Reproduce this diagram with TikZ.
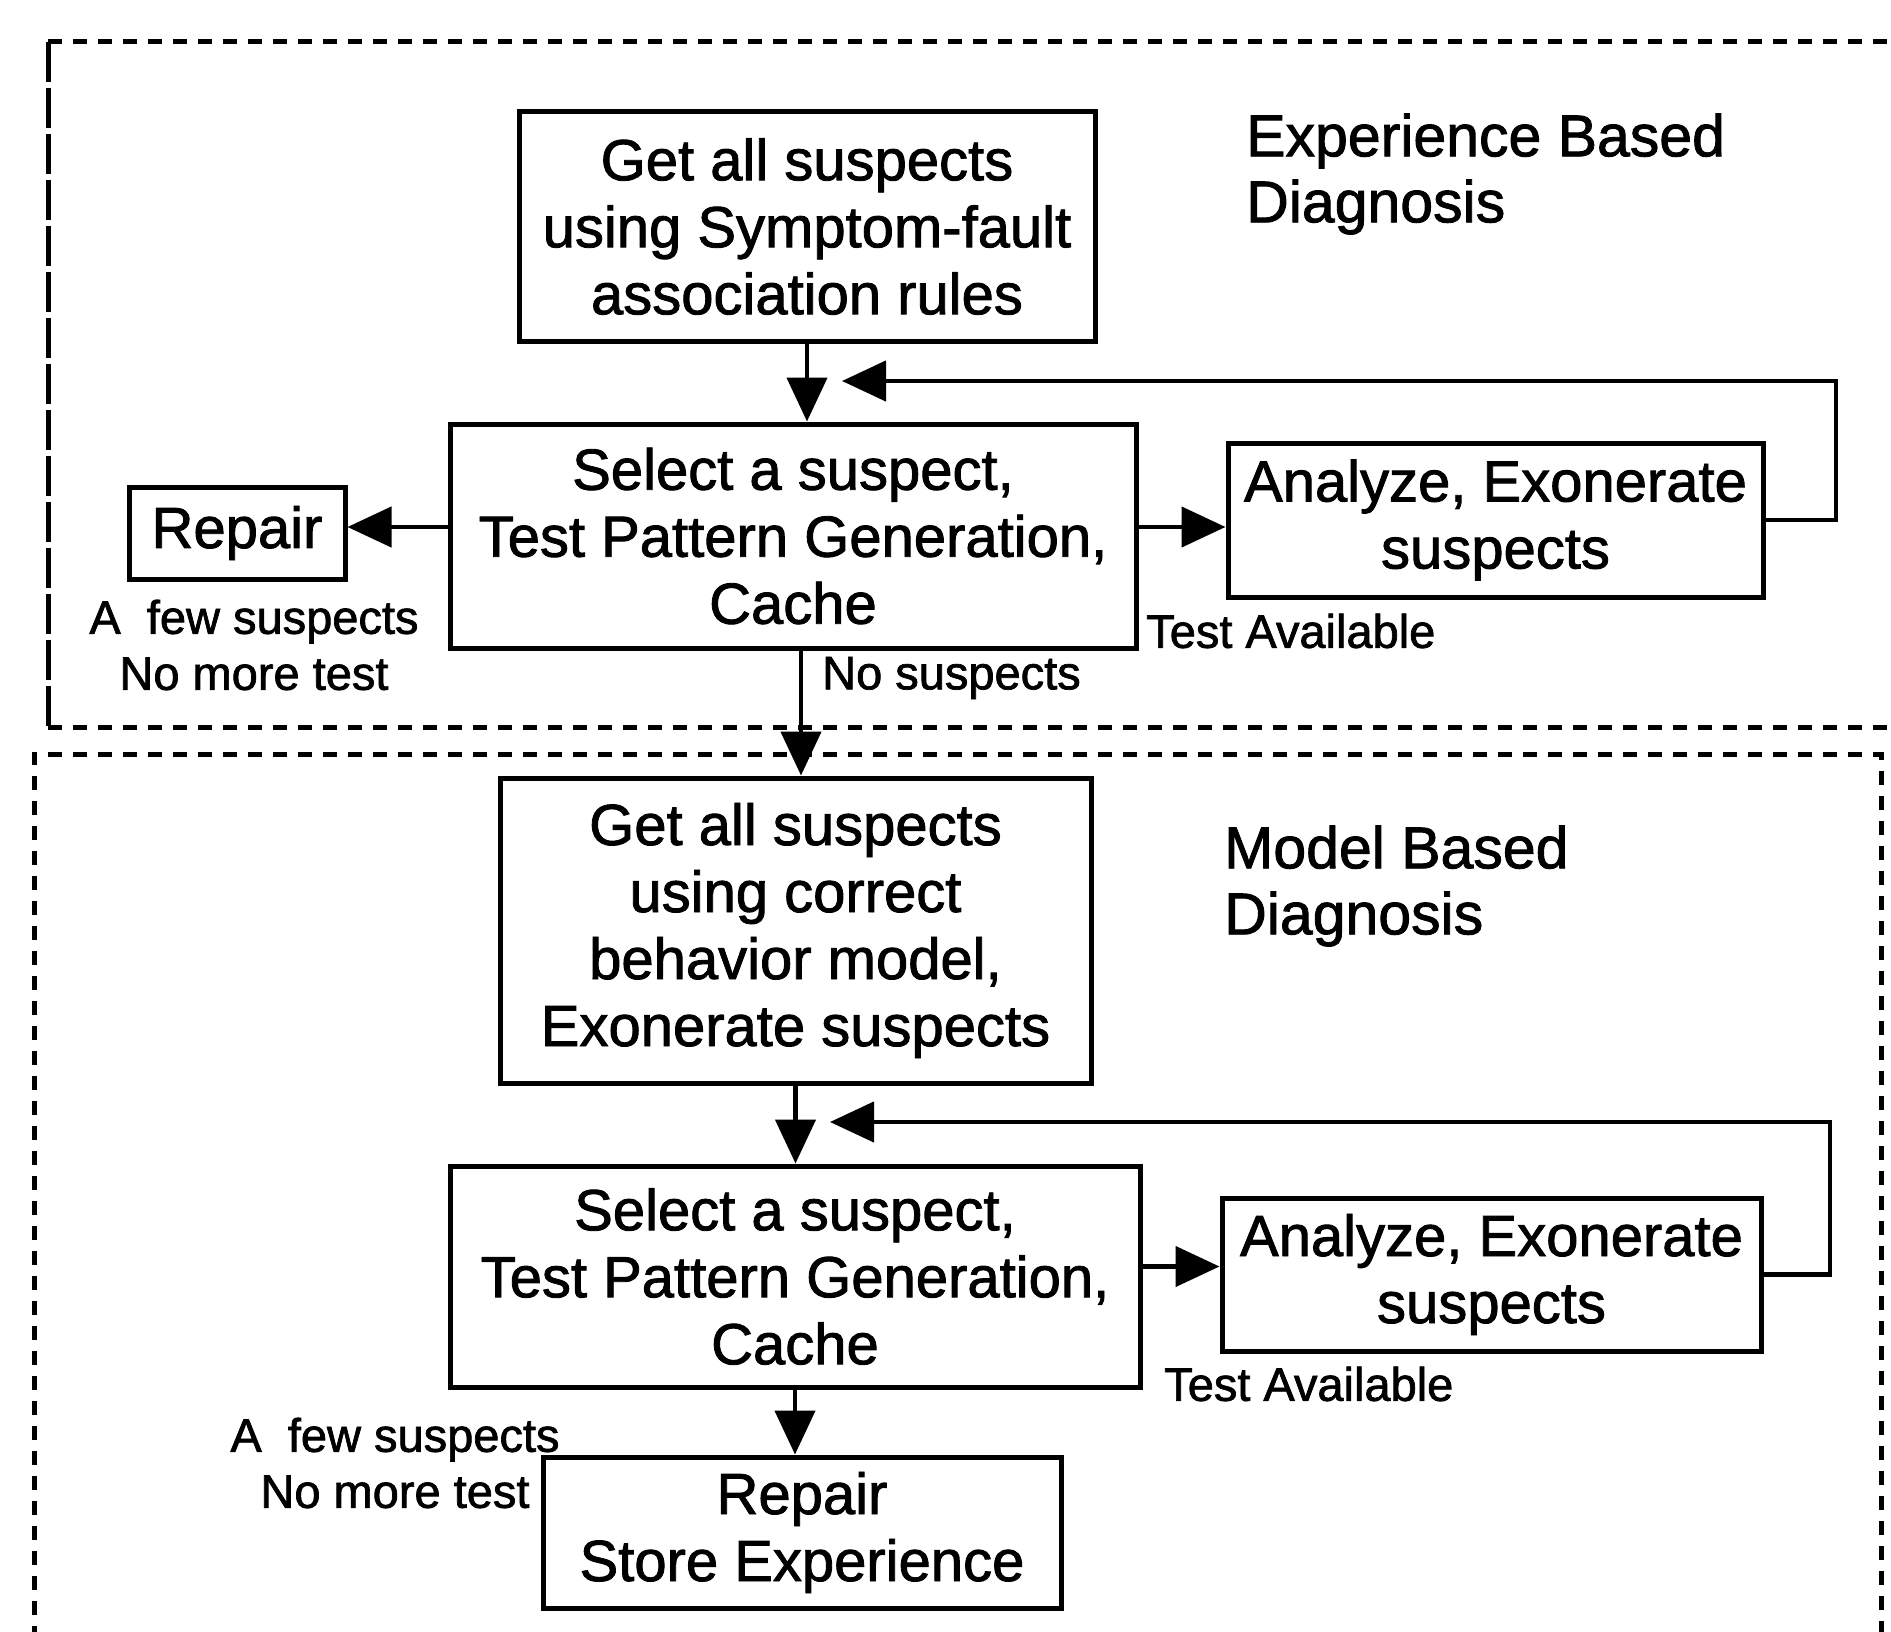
\documentclass[tikz,border=0pt]{standalone}
\usepackage{fontspec}
\setmainfont[FakeBold=1.5]{Liberation Sans}
\usetikzlibrary{arrows.meta}
\begin{document}
\begin{tikzpicture}[x=1pt,y=-1pt,
  box/.style={draw, line width=5pt, inner sep=0pt, align=center,
    font=\fontsize{58}{67}\selectfont},
  big/.style={inner sep=0pt, align=left, font=\fontsize{59}{66}\selectfont},
  small/.style={inner sep=0pt, align=center, font=\fontsize{47}{56}\selectfont},
  arr/.style={line width=4.5pt, -{Triangle[length=44pt,width=40pt]}},
  region/.style={line width=5pt, dash pattern=on 14pt off 11pt},
  regionleft/.style={line width=5pt, dash pattern=on 40pt off 6pt}]
\useasboundingbox (0,0) rectangle (1891,1632);
\fill[white] (0,0) rectangle (1891,1632);
% regions
\draw[region] (48,42) -- (1891,42);
\draw[regionleft] (48,42) -- (48,727);
\draw[region] (48,727) -- (1891,727);
\draw[region] (1893,42) -- (1893,727);
\draw[region] (34,1640) -- (34,754) -- (1881,754) -- (1881,1640);
% top section
\node[box, minimum width=576pt, minimum height=229pt] (b1) at (807,226.5)
  {Get all suspects\\using Symptom-fault\\association rules};
\node[box, minimum width=686pt, minimum height=224pt] (b2) at (793,536)
  {Select a suspect,\\Test Pattern Generation,\\Cache};
\node[box, minimum width=216pt, minimum height=92pt] (rep) at (237,533) {Repair};
\node[box, minimum width=535pt, minimum height=154pt] (an1) at (1495.5,520)
  {Analyze, Exonerate\\suspects};
\node[big, anchor=west] (t1) at (1246,174) {Experience Based\\Diagnosis};
\node[small] (l1) at (254,645) {A\ \ few suspects\\No more test};
\node[small, anchor=west] (l2) at (1146,631) {Test Available};
\node[small, anchor=west] (l3) at (822,678) {No suspects};
% bottom section
\node[box, minimum width=591pt, minimum height=305pt] (b3) at (795.5,930.5)
  {Get all suspects\\using correct\\behavior model,\\Exonerate suspects};
\node[box, minimum width=690pt, minimum height=221pt] (b4) at (795,1276.5)
  {Select a suspect,\\Test Pattern Generation,\\Cache};
\node[box, minimum width=539pt, minimum height=153pt] (an2) at (1491.5,1274.5)
  {Analyze, Exonerate\\suspects};
\node[box, minimum width=518pt, minimum height=151pt] (b5) at (802,1532.5)
  {Repair\\Store Experience};
\node[big, anchor=west] (t2) at (1224,886) {Model Based\\Diagnosis};
\node[small, anchor=west] (l4) at (1164,1384) {Test Available};
\node[small] (l5) at (395,1463) {A\ \ few suspects\\No more test};
% connectors
\coordinate (c1) at (1836,381);
\coordinate (e1) at (842,381);
\coordinate (c2) at (1830,1122);
\coordinate (e2) at (830,1122);
\draw[arr] (b1.south) -- (b1.south |- b2.north);
\draw[arr] ([yshift=9pt]b2.west) -- ([yshift=9pt]b2.west -| rep.east);
\draw[arr] ([yshift=9pt]b2.east) -- ([yshift=9pt]b2.east -| an1.west);
\draw[arr] (an1.east) -| (c1) -- (e1);
\draw[arr] ([xshift=8pt]b2.south) -- ([xshift=8pt]b2.south |- b3.north);
\draw[arr] (b3.south) -- (b3.south |- b4.north);
\draw[arr] ([yshift=10pt]b4.east) -- ([yshift=10pt]b4.east -| an2.west);
\draw[arr] (an2.east) -| (c2) -- (e2);
\draw[arr] (b4.south) -- (b4.south |- b5.north);
\end{tikzpicture}
\end{document}
